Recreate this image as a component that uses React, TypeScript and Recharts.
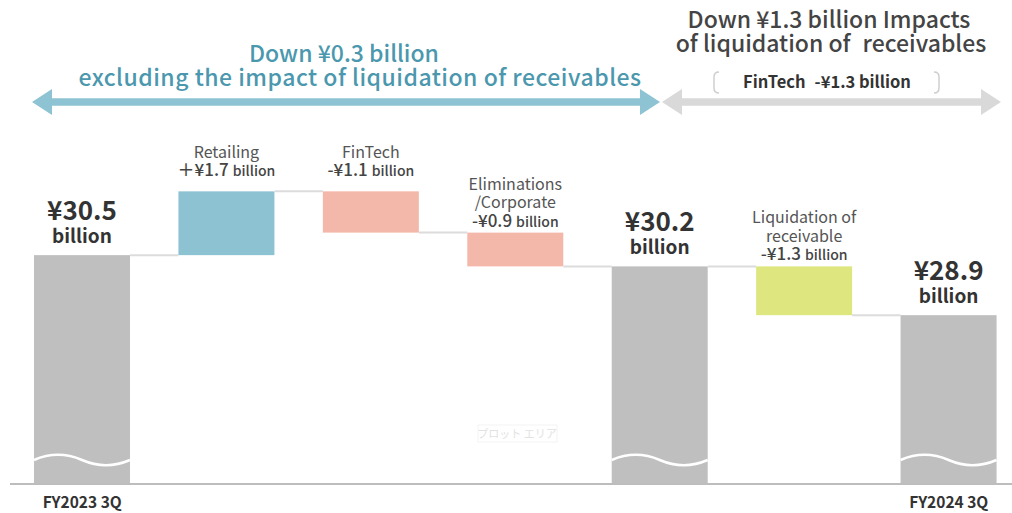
import React from "react";
import { BarChart, Bar, XAxis, YAxis } from "recharts";

// waterfall: FY2023 3Q -> FY2024 3Q, ¥ billion
const categories = [
  "FY2023 3Q",
  "Retailing",
  "FinTech",
  "Eliminations/Corporate",
  "Excl. liquidation",
  "Liquidation of receivable",
  "FY2024 3Q",
];
const tickLabels = ["FY2023 3Q", "", "", "", "", "", "FY2024 3Q"];
const barKinds = ["total", "delta", "delta", "delta", "total", "delta", "total"];
const amounts = [30.5, 1.7, -1.1, -0.9, 30.2, -1.3, 28.9];
const labelNames = [
  [],
  ["Retailing"],
  ["FinTech"],
  ["Eliminations", "/Corporate"],
  [],
  ["Liquidation of", "receivable"],
  [],
];

const barColors = ["#bfbfbf", "#8dc2d2", "#f4b8aa", "#f4b8aa", "#bfbfbf", "#dde67f", "#bfbfbf"];

const FONT = "'Noto Sans CJK JP', 'Noto Sans', sans-serif";
const CHART_W = 1022;
const CHART_H = 513;
const MARGIN = { top: 0, right: 1, bottom: 0, left: 10 };
const AXIS_H = 29;
const BAR_W = 96;
const STEP = (CHART_W - MARGIN.left - MARGIN.right) / categories.length;
const GAP = STEP - BAR_W;
const PLOT_BOTTOM = CHART_H - AXIS_H;
// broken value axis: baseline is not zero
const Y_DOMAIN: [number, number] = [24.4, 37.3];

let level = 0;
const data = categories.map((name, i) => {
  const amt = amounts[i];
  let range: [number, number];
  let down = false;
  if (barKinds[i] === "total") {
    range = [0, amt];
    level = amt;
  } else {
    const next = +(level + amt).toFixed(1);
    range = [Math.min(level, next), Math.max(level, next)];
    down = next < level;
    level = next;
  }
  return { name, range, down, kind: barKinds[i], amount: amt };
});

function WaterfallBar(props: any) {
  const { x, y, width, height, index, payload, background } = props;
  const bottom = background ? background.y + background.height : PLOT_BOTTOM;
  const total = payload.kind === "total";
  const rectH = total ? bottom - y : height;
  const lineY = payload.down ? y + height : y;
  const cx = x + width / 2;
  const w = width;
  const c = bottom - 24;
  const amt = payload.amount as number;
  const names = labelNames[index];
  const lastBase = y - (names.length > 1 ? 6 : 15);

  return (
    <g>
      <rect x={x} y={y} width={width} height={rectH} fill={barColors[index]} />
      {total && (
        <path
          d={`M ${x} ${c} C ${x + w * 0.17} ${c - 7}, ${x + w * 0.33} ${c - 7}, ${x + w * 0.5} ${c} S ${x + w * 0.83} ${c + 7}, ${x + w} ${c}`}
          stroke="#fff"
          strokeWidth={2.5}
          fill="none"
        />
      )}
      {index < categories.length - 1 && (
        <line x1={x + width} x2={x + width + GAP} y1={lineY} y2={lineY} stroke="#dcdcdc" strokeWidth={2} />
      )}
      {total ? (
        <g fontFamily={FONT} fontWeight={700} fill="#333" textAnchor="middle">
          <text x={cx} y={y - 35} fontSize={26}>{`¥${amt.toFixed(1)}`}</text>
          <text x={cx} y={y - 12} fontSize={19}>billion</text>
        </g>
      ) : (
        <g fontFamily={FONT} textAnchor="middle">
          {names.map((n: string, k: number) => (
            <text key={k} x={cx} y={lastBase - 18.5 * (names.length - k)} fontSize={16} fill="#555">
              {n}
            </text>
          ))}
          <text x={cx} y={lastBase} fill="#444" fontWeight={500}>
            <tspan fontSize={17}>{`${amt > 0 ? "＋" : "-"}¥${Math.abs(amt).toFixed(1)}`}</tspan>
            <tspan fontSize={14} dx={4}>billion</tspan>
          </text>
        </g>
      )}
    </g>
  );
}

function Tick(props: any) {
  const { x, y, payload } = props;
  const label = tickLabels[categories.indexOf(payload.value)];
  if (!label) return null;
  return (
    <text x={x} y={y + 16} textAnchor="middle" fontFamily={FONT} fontSize={15.5} fontWeight={700} fill="#333">
      {label}
    </text>
  );
}

function arrow(x1: number, x2: number, cy: number) {
  const hl = 20, hh = 13, sh = 3.8;
  return [
    [x1, cy], [x1 + hl, cy - hh], [x1 + hl, cy - sh], [x2 - hl, cy - sh], [x2 - hl, cy - hh],
    [x2, cy], [x2 - hl, cy + hh], [x2 - hl, cy + sh], [x1 + hl, cy + sh], [x1 + hl, cy + hh],
  ].map((p) => p.join(",")).join(" ");
}

function Annotations() {
  return (
    <svg width={1012} height={513} style={{ position: "absolute", left: 0, top: 0, pointerEvents: "none" }}>
      <g fontFamily={FONT} fontSize={23} fontWeight={500} textAnchor="middle">
        <text x={344} y={62} fill="#4b98ae">Down ¥0.3 billion</text>
        <text x={360} y={86} fill="#4b98ae" letterSpacing={0.5}>
          excluding the impact of liquidation of receivables
        </text>
        <text x={829} y={28} fill="#444">Down ¥1.3 billion Impacts</text>
        <text x={831} y={52} fill="#444">
          of liquidation of<tspan dx={12}>receivables</tspan>
        </text>
      </g>
      <text x={827} y={88} textAnchor="middle" fontFamily={FONT} fontSize={16.5} fontWeight={700} fill="#333">
        FinTech<tspan dx={9}>-¥1.3 billion</tspan>
      </text>
      <path d="M 719 72 Q 714 72 714 77 L 714 88 Q 714 93 719 93" stroke="#cfcfcf" strokeWidth={1.5} fill="none" />
      <path d="M 934 72 Q 939 72 939 77 L 939 88 Q 939 93 934 93" stroke="#cfcfcf" strokeWidth={1.5} fill="none" />
      <polygon points={arrow(32, 660, 102)} fill="#8ec3d3" />
      <polygon points={arrow(662, 1001, 102)} fill="#d9d9d9" />
      <rect x={478} y={425} width={79} height={17} fill="none" stroke="#f3f3f3" />
      <text x={517} y={438} textAnchor="middle" fontFamily={FONT} fontSize={11} fill="#e2e2e2">
        プロット エリア
      </text>
    </svg>
  );
}

export default function App() {
  return (
    <div
      style={{
        position: "absolute",
        left: 0,
        top: 0,
        width: 1012,
        height: 513,
        overflow: "hidden",
        background: "#fff",
        fontFamily: FONT,
      }}
    >
      <BarChart width={CHART_W} height={CHART_H} data={data} margin={MARGIN}>
        <XAxis
          dataKey="name"
          height={AXIS_H}
          interval={0}
          tickLine={false}
          axisLine={{ stroke: "#bdbdbd", strokeWidth: 2 }}
          tick={<Tick />}
        />
        <YAxis hide domain={Y_DOMAIN} allowDataOverflow />
        <Bar dataKey="range" barSize={BAR_W} shape={<WaterfallBar />} isAnimationActive={false} />
      </BarChart>
      <Annotations />
    </div>
  );
}
